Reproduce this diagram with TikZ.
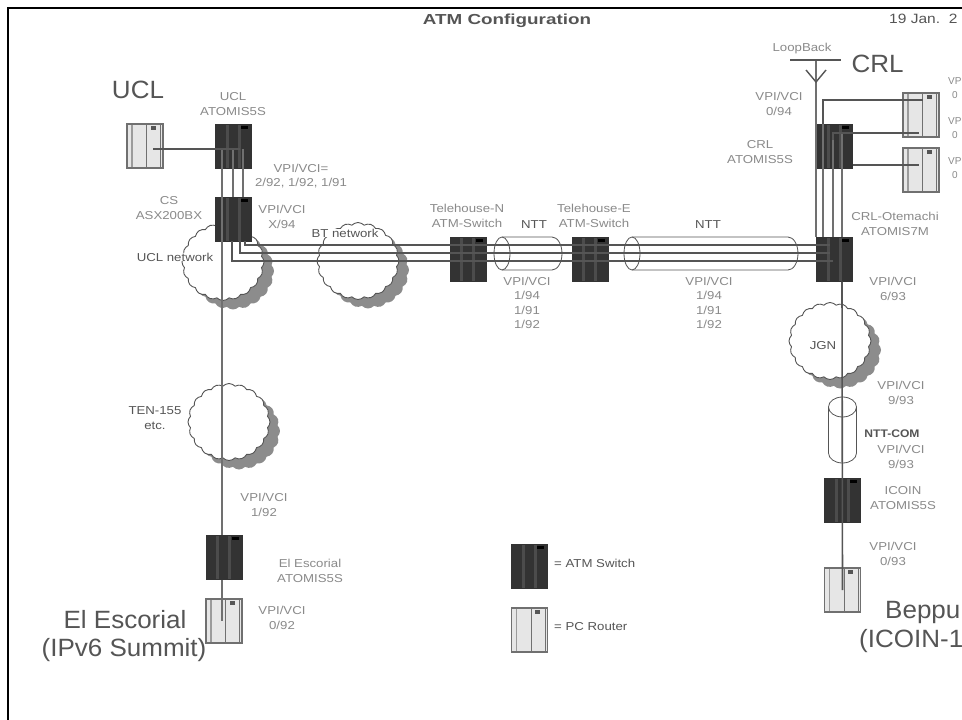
\documentclass[tikz,border=0pt]{standalone}
\usepackage{fontspec}
\setmainfont{Liberation Sans}
\usetikzlibrary{shapes.symbols,calc}
\definecolor{txtg}{HTML}{8A8A8A}
\definecolor{txtd}{HTML}{555555}
\definecolor{wire}{HTML}{707070}
\definecolor{swdark}{HTML}{333333}
\definecolor{swmid}{HTML}{4C4C4C}
\definecolor{pcfill}{HTML}{E6E6E6}
\definecolor{shad}{HTML}{8C8C8C}
\tikzset{
  x=1pt,y=-1pt,
  small/.style={font=\fontsize{11.5}{14.5}\selectfont,text=txtg,align=center,inner sep=0pt,xscale=1.15},
  smalld/.style={font=\fontsize{11.5}{14.5}\selectfont,text=txtd,align=center,inner sep=0pt,xscale=1.15},
  edgetext/.style={font=\fontsize{10}{14.5}\selectfont,text=txtg,align=center,inner sep=0pt,anchor=west},
  big/.style={font=\fontsize{25}{30}\selectfont,text=txtd,inner sep=0pt,align=center,xscale=1.04},
  switchbox/.style={draw=swdark,fill=swdark,line width=1pt,minimum width=36pt,minimum height=44pt,inner sep=0pt,
    path picture={
      \draw[swmid,line width=3pt] ($(path picture bounding box.north west)!0.33!(path picture bounding box.north east)$) -- ($(path picture bounding box.south west)!0.33!(path picture bounding box.south east)$);
      \draw[swmid,line width=3pt] ($(path picture bounding box.north west)!0.66!(path picture bounding box.north east)$) -- ($(path picture bounding box.south west)!0.66!(path picture bounding box.south east)$);
      \fill[black] ($(path picture bounding box.north west)!0.72!(path picture bounding box.north east)+(0,2)$) rectangle +(7,3);
    }},
  pcbox/.style={draw=wire,fill=pcfill,line width=1.2pt,minimum width=36pt,minimum height=44pt,inner sep=0pt,
    path picture={
      \draw[wire!70,line width=1.2pt] ($(path picture bounding box.north west)!0.14!(path picture bounding box.north east)$) -- ($(path picture bounding box.south west)!0.14!(path picture bounding box.south east)$);
      \draw[wire,line width=1.2pt] ($(path picture bounding box.north west)!0.55!(path picture bounding box.north east)$) -- ($(path picture bounding box.south west)!0.55!(path picture bounding box.south east)$);
      \draw[wire,line width=1.2pt] ($(path picture bounding box.north west)!0.94!(path picture bounding box.north east)$) -- ($(path picture bounding box.south west)!0.94!(path picture bounding box.south east)$);
      \fill[txtd] ($(path picture bounding box.north west)!0.66!(path picture bounding box.north east)+(0,2)$) rectangle +(5,4);
    }},
  cloudshape/.style={cloud,cloud puffs=20,cloud puff arc=95,aspect=1.05,draw=txtd,fill=white,line width=.9pt,minimum width=82pt,minimum height=77pt,inner sep=0pt},
  cloudshadow/.style={cloud,cloud puffs=20,cloud puff arc=95,aspect=1.05,fill=shad,minimum width=82pt,minimum height=77pt,inner sep=0pt},
  wireline/.style={draw=wire,line width=1.9pt},
  wiredark/.style={draw=txtd,line width=1.4pt},
  tube/.style={draw=txtd,line width=.8pt},
}
\begin{document}
\begin{tikzpicture}
\useasboundingbox (0,0) rectangle (962,720);
\fill[white] (0,0) rectangle (962,720);
\coordinate (fnw) at (8,8);
\coordinate (fne) at (962,8);
\coordinate (fsw) at (8,720);
\draw[black,line width=2.4pt] (fsw) -- (fnw) -- (fne);

% clouds
\node[cloudshadow] (uclS) at (233,271) {};
\node[cloudshape] (uclC) at (223,262) {};
\node[cloudshadow] (btS) at (368,270) {};
\node[cloudshape] (btC) at (358,261) {};
\node[cloudshadow] (jgnS) at (840,350) {};
\node[cloudshape] (jgnC) at (830,341) {};
\node[cloudshadow] (tenS) at (239,431) {};
\node[cloudshape] (tenC) at (229,422) {};

% devices
\node[switchbox] (uclsw) at (233.5,146) {};
\node[switchbox] (cssw) at (233.5,219) {};
\node[pcbox] (uclpc) at (145,146) {};
\node[switchbox] (thn) at (468,259) {};
\node[switchbox] (the) at (590,259) {};
\node[switchbox] (crlsw) at (834.5,146) {};
\node[switchbox] (otesw) at (834.5,259) {};
\node[pcbox] (crlpcA) at (921,115) {};
\node[pcbox] (crlpcB) at (921,170) {};
\node[switchbox] (icoin) at (842.5,500) {};
\node[pcbox] (beppc) at (842.5,590) {};
\node[switchbox] (essw) at (224,557) {};
\node[pcbox] (espc) at (224,621) {};
\node[switchbox] (legsw) at (529.5,566) {};
\node[pcbox] (legpc) at (529.5,630) {};

% tube bodies (white) behind wires
\fill[white] (502,237) -- (552,237) arc[start angle=-90,end angle=90,x radius=10,y radius=16.5] -- (502,270) -- cycle;
\fill[white] (632,237) -- (788,237) arc[start angle=-90,end angle=90,x radius=10,y radius=16.5] -- (632,270) -- cycle;
\fill[white] (828.5,407) rectangle (856.5,453);

% wires
\draw[wireline] (222,149) -- (essw.north -| 222,0);
\draw[wireline] (222,580) -- (222,621);
\draw[wireline] (233,149) -- (233,197);
\draw[wireline] (243,149) -- (243,197);
\draw[wiredark] ($(uclpc.center)+(8,3)$) -- ($(uclsw.center)+(6,3)$);
\draw[wiredark] (245,241) |- (otesw.west |- 0,245) -- +(14,0);
\draw[wiredark] (240,241) |- (otesw.west |- 0,253) -- +(14,0);
\draw[wiredark] (232,241) |- (otesw.west |- 0,261) -- +(17,0);
% CRL side
\coordinate (antTop) at (816,60);
\draw[wireline] (antTop) -- (816,237);
\draw[wireline] (823,124) -- (823,237);
\draw[wireline] (833,133) -- (833,237);
\draw[wireline] (842,133) -- (842,237);
\draw[wiredark] (823,124) |- (crlpcA.center |- 0,100) -- +(2,0);
\draw[wiredark] (833,140) |- (crlpcA.west |- 0,133) -- +(17,0);
\draw[wiredark] (crlsw.east |- 0,165) -- (crlpcB.west |- 0,165) -- +(17,0);
\draw[wiredark,line width=1.6pt] (otesw.south -| 842,0) -- (beppc.center);
% antenna
\coordinate (antL) at (790,60);
\coordinate (antR) at (841,60);
\draw[txtd,line width=1.2pt] (antL) -- (antR);
\draw[txtd,line width=1.4pt] (806,70) -- (816,82) -- (826,70);

% tube outlines
\draw[tube] (502,237) -- (552,237) arc[start angle=-90,end angle=90,x radius=10,y radius=16.5] -- (502,270);
\draw[tube] (502,253.5) ellipse[x radius=8,y radius=16.5];
\draw[tube] (632,237) -- (788,237) arc[start angle=-90,end angle=90,x radius=10,y radius=16.5] -- (632,270);
\draw[tube] (632,253.5) ellipse[x radius=8,y radius=16.5];
\draw[tube] (828.5,407) -- (828.5,453) arc[start angle=180,end angle=0,x radius=14,y radius=10] -- (856.5,407);
\draw[tube] (842.5,407) ellipse[x radius=14,y radius=10];

% labels
\node[font=\fontsize{14.5}{17}\selectfont\bfseries,text=txtd,inner sep=0pt,xscale=1.3] (title) at (507,21) {ATM Configuration};
\node[font=\fontsize{13.5}{15}\selectfont,text=txtd,anchor=west,inner sep=0pt,xscale=1.15] (date) at (889,19) {19 Jan.\ \ 2};
\node[big] (lucl) at (138,90) {UCL};
\node[big] (lcrl) at (877.5,64) {CRL};
\node[big] (les) at (125,620) {El Escorial};
\node[big] (lip) at (124,650) {(IPv6 Summit)};
\node[big,anchor=west] (lbep) at (885,612) {Beppu};
\node[big,anchor=west] (lico) at (859,641) {(ICOIN-1};

\node[small] at (233,104) {UCL\\ATOMIS5S};
\node[small] at (301,176) {VPI/VCI=\\2/92, 1/92, 1/91};
\node[small] at (169,208) {CS\\ASX200BX};
\node[small] at (282,217) {VPI/VCI\\X/94};
\node[smalld,fill=white] at (345,233) {BT network};
\node[smalld,fill=white] at (175,257) {UCL network};
\node[small] at (467,216) {Telehouse-N\\ATM-Switch};
\node[small] at (594,216) {Telehouse-E\\ATM-Switch};
\node[smalld] at (534,225) {NTT};
\node[smalld] at (708,225) {NTT};
\node[small] at (527,303) {VPI/VCI\\1/94\\1/91\\1/92};
\node[small] at (709,303) {VPI/VCI\\1/94\\1/91\\1/92};
\node[small] at (802,49) {LoopBack};
\node[small] at (779,104) {VPI/VCI\\0/94};
\node[small] at (760,152) {CRL\\ATOMIS5S};
\node[small] at (895,224) {CRL-Otemachi\\ATOMIS7M};
\node[small] at (893,289) {VPI/VCI\\6/93};
\node[smalld] at (823,346) {JGN};
\node[font=\fontsize{11}{12}\selectfont\bfseries,text=txtd,inner sep=0pt,xscale=1.1] at (892,434) {NTT-COM};
\node[small] at (901,393) {VPI/VCI\\9/93};
\node[small] at (901,457) {VPI/VCI\\9/93};
\node[small] at (903,498) {ICOIN\\ATOMIS5S};
\node[small] at (893,554) {VPI/VCI\\0/93};
\node[smalld] at (155,418) {TEN-155\\etc.};
\node[small] at (264,505) {VPI/VCI\\1/92};
\node[small] at (310,571) {El Escorial\\ATOMIS5S};
\node[small] at (282,618) {VPI/VCI\\0/92};
\node[smalld,anchor=west] at (554,563) {= ATM Switch};
\node[smalld,anchor=west] at (554,627) {= PC Router};
\node[edgetext] at (948,88) {VP\\0};
\node[edgetext] at (948,128) {VP\\0};
\node[edgetext] at (948,168) {VP\\0};
\end{tikzpicture}
\end{document}
